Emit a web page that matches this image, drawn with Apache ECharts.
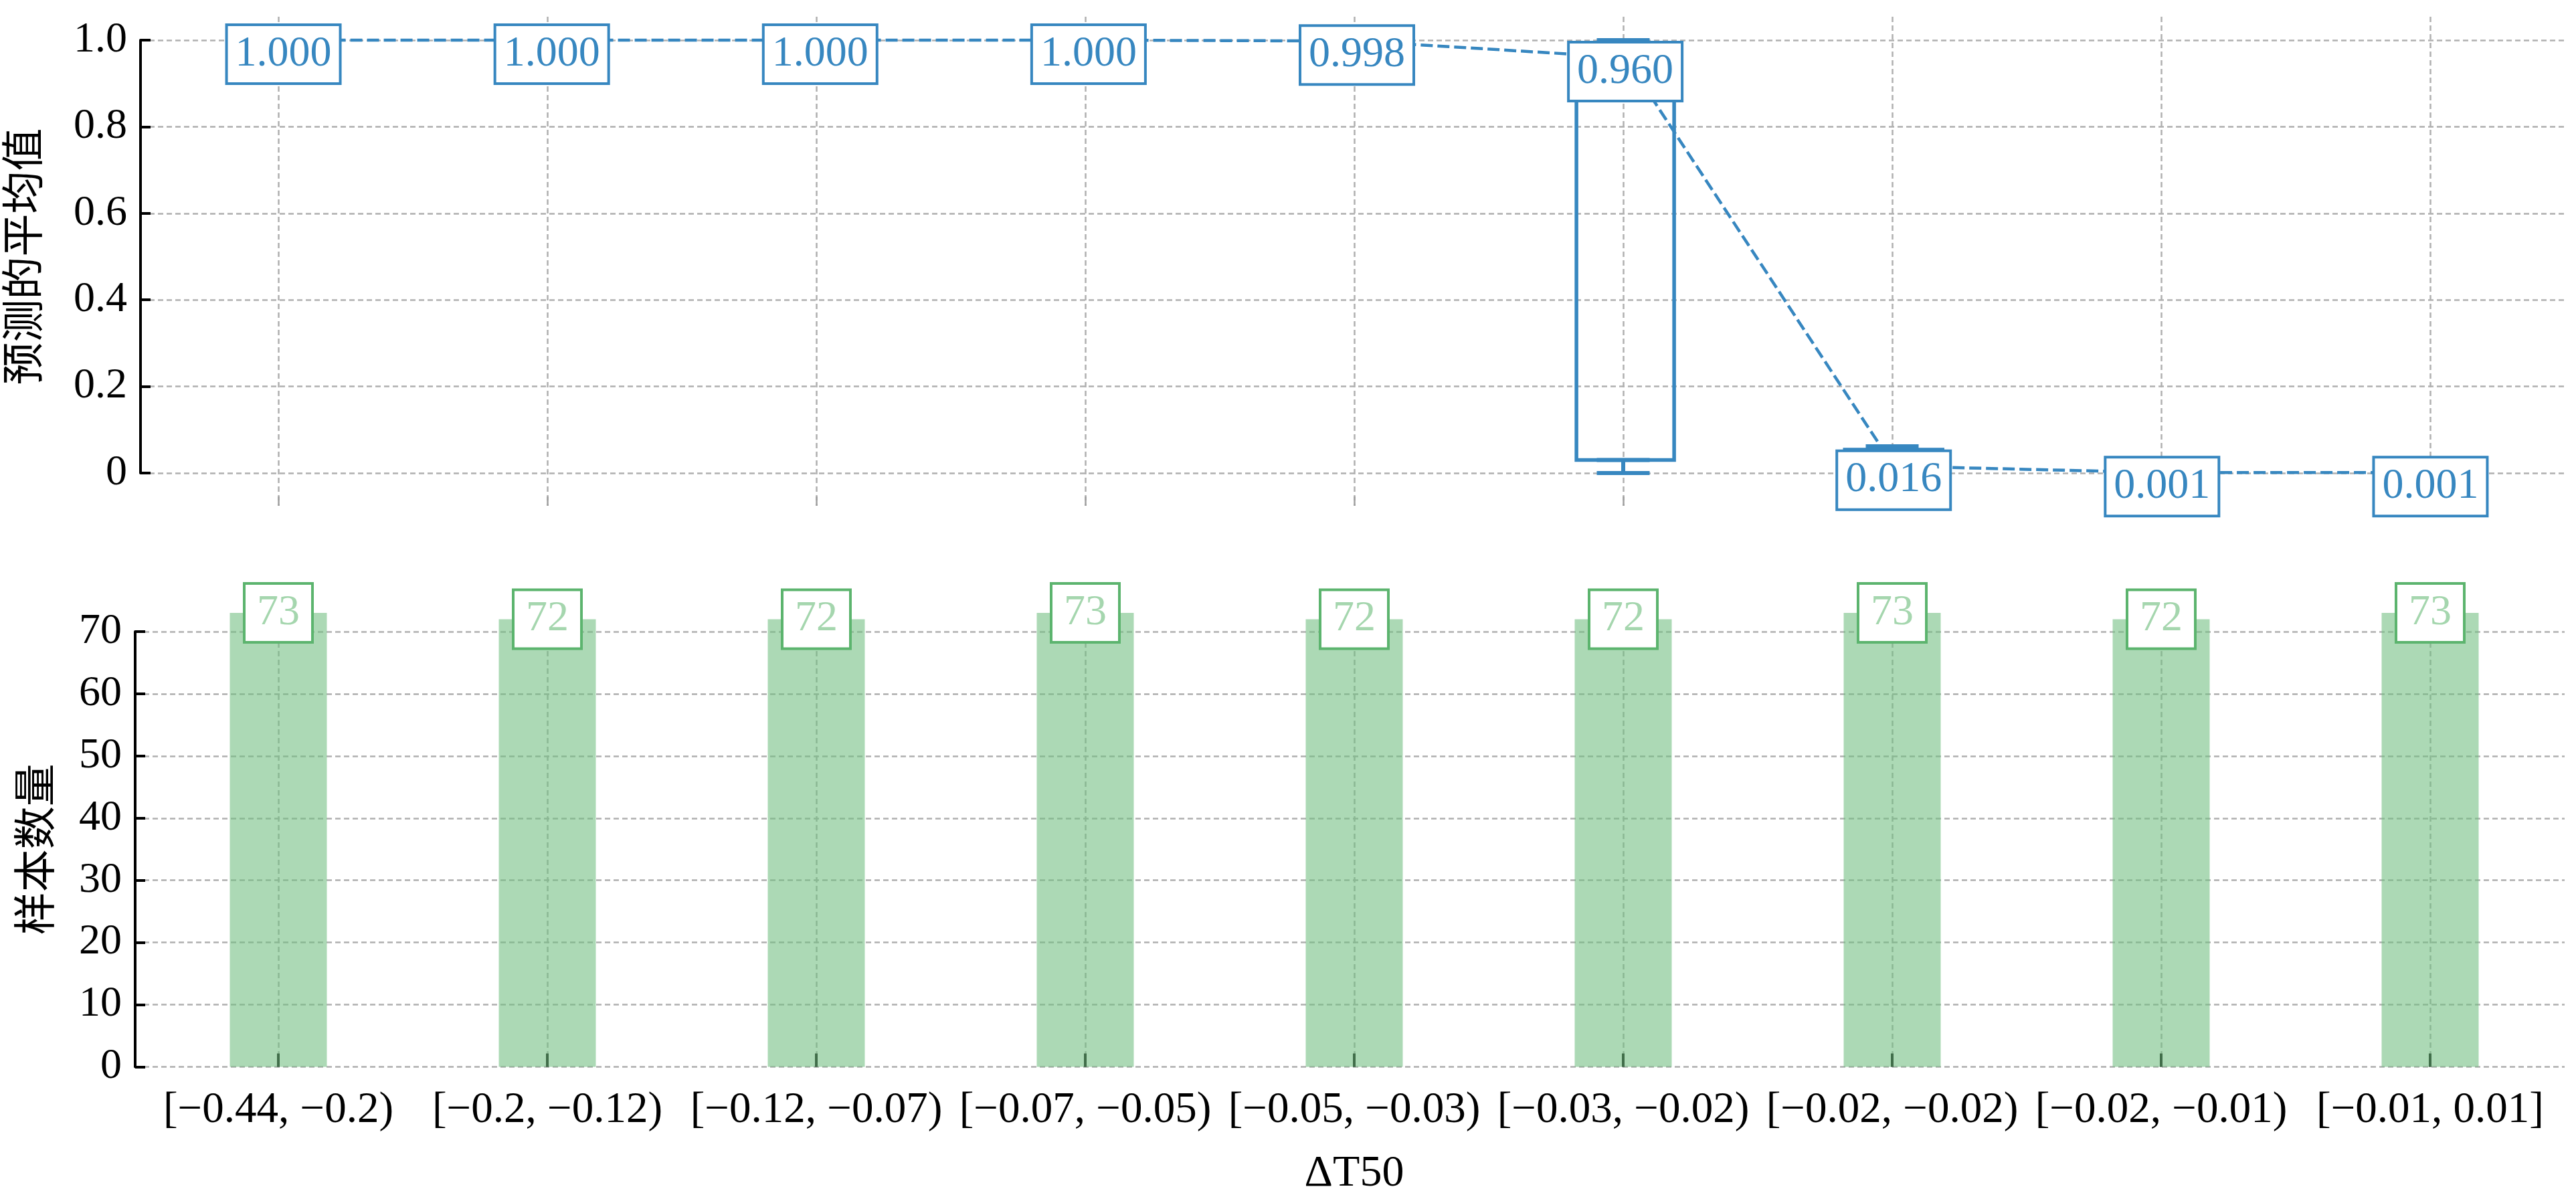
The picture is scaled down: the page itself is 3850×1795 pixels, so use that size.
<!DOCTYPE html>
<html>
<head>
<meta charset="utf-8">
<style>
html,body{margin:0;padding:0;background:#fff;}
#chart{width:3850px;height:1795px;}
</style>
<script src="https://cdn.jsdelivr.net/npm/echarts@6/dist/echarts.min.js"></script>
</head>
<body>
<div id="chart"></div>
<script>
// ---- data ----
const categories = ['[\u22120.44, \u22120.2)', '[\u22120.2, \u22120.12)', '[\u22120.12, \u22120.07)', '[\u22120.07, \u22120.05)', '[\u22120.05, \u22120.03)', '[\u22120.03, \u22120.02)', '[\u22120.02, \u22120.02)', '[\u22120.02, \u22120.01)', '[\u22120.01, 0.01]'];
const meanPred = [1.000, 1.000, 1.000, 1.000, 0.998, 0.960, 0.016, 0.001, 0.001];
const boxMin = [1.0, 1.0, 1.0, 1.0, 0.99, 0.0, 0.0, 0.0, 0.0];
const boxQ1  = [1.0, 1.0, 1.0, 1.0, 1.0, 0.03, 0.0, 0.0, 0.0];
const boxMed = [1.0, 1.0, 1.0, 1.0, 1.0, 0.95, 0.004, 0.0, 0.0];
const boxQ3  = [1.0, 1.0, 1.0, 1.0, 1.0, 0.97, 0.054, 0.0, 0.0];
const boxMax = [1.0, 1.0, 1.0, 1.0, 1.0, 1.0, 0.062, 0.004, 0.004];
const sampleCount = [73, 72, 72, 73, 72, 72, 73, 72, 73];
const topTicks = [0, 0.2, 0.4, 0.6, 0.8, 1.0];
const bottomTicks = [0, 10, 20, 30, 40, 50, 60, 70];

// ---- style ----
const FONT = "'Liberation Serif', 'Noto Sans CJK SC', serif";
const BLUE = '#3787c0';
const GREEN_EDGE = '#5cb46e';
const GREEN_TEXT = '#a5d6ae';
const BAR_COLOR = 'rgba(112,190,128,0.58)';
const GRID_LINE = {show: true, lineStyle: {color: '#b0b0b0', width: 2.5, type: [8, 5]}};

const boxWide = categories.map((c, i) => [boxQ1[i], boxQ1[i], boxMed[i], boxQ3[i], boxQ3[i]]);
const whiskUp = categories.map((c, i) => [boxQ3[i], boxQ3[i], boxQ3[i], boxQ3[i], boxMax[i]]);
const whiskDn = categories.map((c, i) => [boxMin[i], boxQ1[i], boxQ1[i], boxQ1[i], boxQ1[i]]);

function valueAxis(grid, min, max, interval, name, nameGap, fmt) {
  return {
    type: 'value', gridIndex: grid, min: min, max: max, interval: interval,
    offset: 13,
    name: name, nameLocation: 'middle', nameGap: nameGap,
    nameTextStyle: {fontFamily: FONT, fontSize: 64, color: '#000'},
    axisLine: {show: true, lineStyle: {color: '#000', width: 4}},
    axisTick: {show: true, inside: true, length: 15, lineStyle: {color: '#000', width: 4}},
    axisLabel: {show: true, margin: 20, fontFamily: FONT, fontSize: 64, color: '#000', formatter: fmt},
    splitLine: GRID_LINE
  };
}
const topRect = {left: 215, right: 17, top: 60, height: 647};

const option = {
  backgroundColor: '#fff',
  animation: false,
  grid: [
    {left: 416, right: 218, top: 25, height: 731},
    Object.assign({}, topRect),
    {left: 215, right: 17, top: 944, height: 650.5},
    {left: 416, right: 218, top: 882, height: 712.5},
    Object.assign({}, topRect),
    Object.assign({}, topRect)
  ],
  xAxis: [
    {type: 'category', gridIndex: 0, data: categories, boundaryGap: false,
     axisLine: {show: false}, axisLabel: {show: false},
     axisTick: {show: true, inside: true, length: 14, interval: 0, lineStyle: {color: '#a0a0a0', width: 2.5}},
     splitLine: Object.assign({interval: 0}, GRID_LINE)},
    {type: 'category', gridIndex: 1, data: categories, boundaryGap: true, show: false},
    {type: 'category', gridIndex: 2, data: categories, boundaryGap: true,
     name: '\u0394T50', nameLocation: 'middle', nameGap: 127,
     nameTextStyle: {fontFamily: FONT, fontSize: 66, color: '#000'},
     axisLine: {show: false},
     axisTick: {show: true, inside: true, alignWithLabel: true, interval: 0, length: 20, lineStyle: {color: '#000', width: 4}},
     axisLabel: {show: true, interval: 0, margin: 33, fontFamily: FONT, fontSize: 65, color: '#000'},
     splitLine: {show: false}},
    {type: 'category', gridIndex: 3, data: categories, boundaryGap: false,
     axisLine: {show: false}, axisLabel: {show: false}, axisTick: {show: false},
     splitLine: Object.assign({interval: 0}, GRID_LINE)},
    {type: 'category', gridIndex: 4, data: categories, boundaryGap: true, show: false},
    {type: 'category', gridIndex: 5, data: categories, boundaryGap: true, show: false}
  ],
  yAxis: [
    {type: 'value', gridIndex: 0, min: 0, max: 1, show: false},
    valueAxis(1, topTicks[0], topTicks[topTicks.length - 1], topTicks[1] - topTicks[0], '预测的平均值', 138,
      v => (v === 0 ? '0' : v.toFixed(1))),
    valueAxis(2, bottomTicks[0], bottomTicks[bottomTicks.length - 1], bottomTicks[1] - bottomTicks[0], '样本数量', 112,
      v => String(v)),
    {type: 'value', gridIndex: 3, min: 0, max: 1, show: false},
    {type: 'value', gridIndex: 4, min: topTicks[0], max: topTicks[topTicks.length - 1], show: false},
    {type: 'value', gridIndex: 5, min: topTicks[0], max: topTicks[topTicks.length - 1], show: false}
  ],
  series: [
    {type: 'boxplot', xAxisIndex: 4, yAxisIndex: 4, data: whiskUp, boxWidth: [79, 79], z: 2,
     itemStyle: {color: 'none', borderColor: BLUE, borderWidth: 6}},
    {type: 'boxplot', xAxisIndex: 5, yAxisIndex: 5, data: whiskDn, boxWidth: [79, 79], z: 2,
     itemStyle: {color: 'none', borderColor: BLUE, borderWidth: 6}},
    {type: 'boxplot', xAxisIndex: 1, yAxisIndex: 1, data: boxWide, boxWidth: [146, 146], z: 2,
     itemStyle: {color: 'none', borderColor: BLUE, borderWidth: 5.5}},
    {type: 'line', xAxisIndex: 1, yAxisIndex: 1, data: meanPred, z: 5, clip: false,
     symbol: 'circle', symbolSize: 1, showSymbol: true,
     itemStyle: {color: BLUE},
     lineStyle: {color: BLUE, width: 4.5, type: [18, 7]},
     label: {show: true, position: 'inside', offset: [0, 21],
       formatter: p => Number(p.value).toFixed(3),
       fontFamily: FONT, fontSize: 64, lineHeight: 66, color: BLUE,
       backgroundColor: '#fff', borderColor: BLUE, borderWidth: 4, padding: [9, 11]}},
    {type: 'bar', xAxisIndex: 2, yAxisIndex: 2, data: sampleCount, barWidth: 145, clip: false, z: 2,
     itemStyle: {color: BAR_COLOR},
     label: {show: true, position: ['50%', 0], align: 'center', verticalAlign: 'middle',
       fontFamily: FONT, fontSize: 64, lineHeight: 66, color: GREEN_TEXT,
       backgroundColor: '#fff', borderColor: GREEN_EDGE, borderWidth: 4, padding: [9, 17]}}
  ]
};

const chart = echarts.init(document.getElementById('chart'), null, {renderer: 'canvas'});
chart.setOption(option);
</script>
</body>
</html>
